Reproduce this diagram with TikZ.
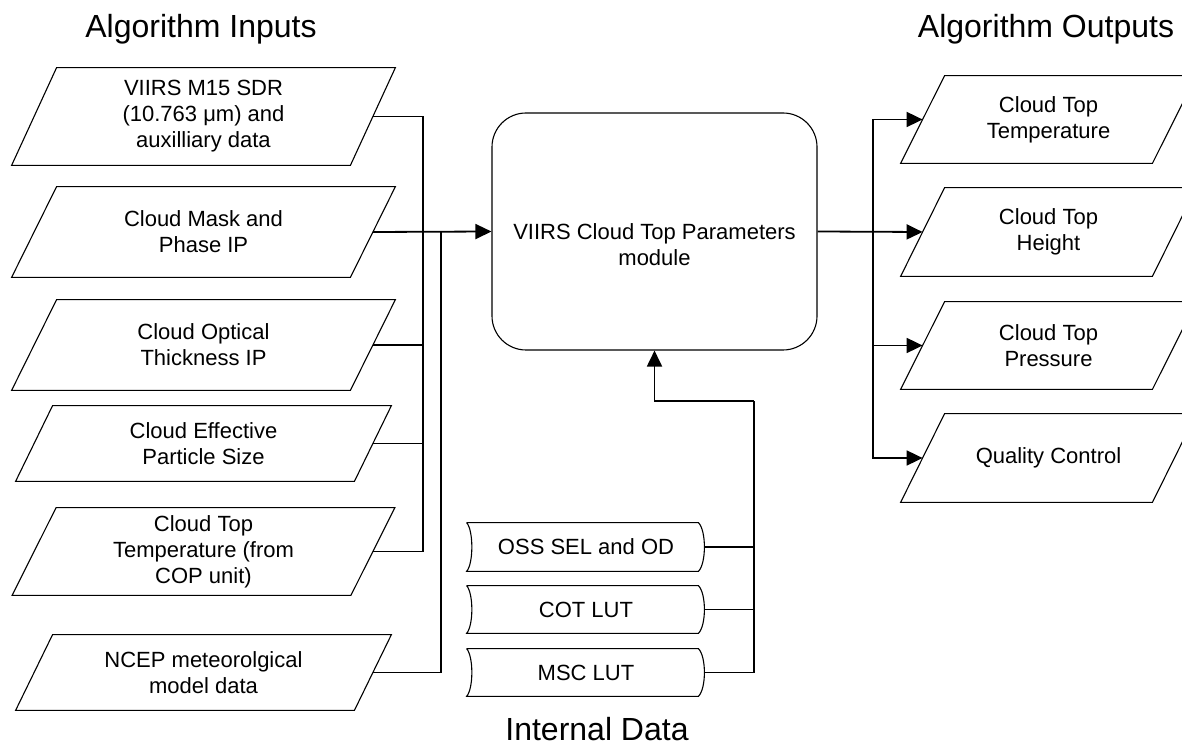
\documentclass[tikz,border=0pt]{standalone}
\usepackage{fontspec}
\setmainfont{Liberation Sans}
\usetikzlibrary{calc,arrows.meta}
\tikzset{
  txt/.style={font=\fontsize{11}{13}\selectfont, align=center, inner sep=0pt},
  title/.style={font=\fontsize{16}{19}\selectfont, inner sep=0pt, anchor=base},
  outline/.style={draw=black, line width=0.55pt, line join=miter},
  conn/.style={draw=black, line width=0.65pt},
  arr/.style={draw=black, line width=0.9pt, -{Triangle[length=8pt,width=7.5pt]}},
  inbox/.style={txt, minimum width=169pt},
  outbox/.style={txt, minimum width=125.5pt},
  store/.style={txt, minimum width=119pt},
  mainbox/.style={draw=black, line width=0.55pt, rounded corners=17pt, minimum width=162.5pt, minimum height=118.5pt, inner sep=0pt}
}
\newcommand\drawpara[2]{\draw[outline] ($(#1.south west)+(-#2,0)$) -- ($(#1.south east)+(-#2,0)$) -- ($(#1.north east)+(#2,0)$) -- ($(#1.north west)+(#2,0)$) -- cycle;}
\newcommand\drawstore[1]{\draw[outline] (#1.north west) -- ($(#1.north east)+(-7,0)$) .. controls ($(#1.north east)+(1,8)$) and ($(#1.south east)+(1,-8)$) .. ($(#1.south east)+(-7,0)$) -- (#1.south west) .. controls ($(#1.south west)+(7,-8)$) and ($(#1.north west)+(7,8)$) .. (#1.north west);}
\begin{document}
\begin{tikzpicture}[x=0.5pt, y=-0.5pt]
\useasboundingbox (0,0) rectangle (1182,747);
\clip (0,0) rectangle (1182,747);

% titles
\node[title] (tin) at (201,38) {Algorithm Inputs};
\node[title] (tout) at (1046,38) {Algorithm Outputs};
\node[title] (tint) at (597,740) {Internal Data};

% inputs
\node[inbox, minimum height=48.5pt] (in1) at (203.5,116.5) {VIIRS M15 SDR\\(10.763 μm) and\\auxilliary data};
\node[inbox, minimum height=45pt] (in2) at (203.5,232) {Cloud Mask and\\Phase IP};
\node[inbox, minimum height=45pt] (in3) at (203.5,345) {Cloud Optical\\Thickness IP};
\node[inbox, minimum height=37.5pt] (in4) at (203.5,443.5) {Cloud Effective\\Particle Size};
\node[inbox, minimum height=43.5pt] (in5) at (203.5,551.5) {Cloud Top\\Temperature (from\\COP unit)};
\node[inbox, minimum height=37.5pt] (in6) at (203.5,672.5) {NCEP meteorolgical\\model data};
\drawpara{in1}{22.5}
\drawpara{in2}{22.5}
\drawpara{in3}{22.5}
\drawpara{in4}{18.5}
\drawpara{in5}{22}
\drawpara{in6}{18.5}

% main module
\node[mainbox] (cop) at (654.5,231.5) {};
\node[txt] (coptext) at (654.5,245) {VIIRS Cloud Top Parameters\\module};

% outputs
\node[outbox, minimum height=43.5pt] (out1) at (1048.5,119.5) {Cloud Top\\Temperature};
\node[outbox, minimum height=44pt] (out2) at (1048.5,232) {Cloud Top\\Height};
\node[outbox, minimum height=43.5pt] (out3) at (1048.5,345.5) {Cloud Top\\Pressure};
\node[outbox, minimum height=44pt] (out4) at (1048.5,458) {Quality Control};
\drawpara{out1}{22}
\drawpara{out2}{22}
\drawpara{out3}{22}
\drawpara{out4}{22}

% internal data
\node[store, minimum height=24pt] (oss) at (586,547) {OSS SEL and OD};
\node[store, minimum height=23.5pt] (cot) at (586,609.5) {COT LUT};
\node[store, minimum height=23.5pt] (msc) at (586,672.5) {MSC LUT};
\drawstore{oss}
\drawstore{cot}
\drawstore{msc}

% junction coordinates
\coordinate (ja) at (423,232);
\coordinate (jb) at (441,232);
\coordinate (jo) at (873,232);
\coordinate (ji) at (754,401);

% input connectors
\draw[conn] (in1.east) -| (ja);
\draw[conn] (in3.east) -| (ja);
\draw[conn] (in4.east) -| (ja);
\draw[conn] (in5.east) -| (ja);
\draw[conn] (in6.east) -| (jb);
\draw[arr] (in2.east) -- (cop.west);

% output connectors
\draw[arr] (cop.east) -- (out2.west);
\draw[arr] (jo) |- (out1.west);
\draw[arr] (jo) |- (out3.west);
\draw[arr] (jo) |- (out4.west);

% internal connectors
\draw[conn] (oss.east) -| (ji);
\draw[conn] (cot.east) -| (ji);
\draw[conn] (msc.east) -| (ji);
\draw[arr] (ji) -| (cop.south);
\end{tikzpicture}
\end{document}
